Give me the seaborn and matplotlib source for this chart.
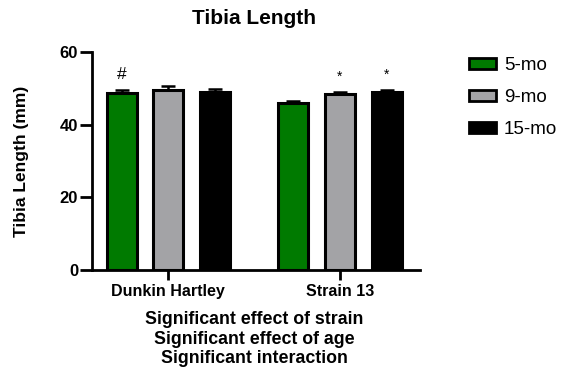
import matplotlib
matplotlib.use("Agg")
import matplotlib.pyplot as plt
import seaborn as sns
import pandas as pd
import numpy as np
from matplotlib.patches import Patch

strains = ["Dunkin Hartley", "Strain 13"]
ages = ["5-mo", "9-mo", "15-mo"]
dh_means = [48.7, 49.5, 49.0]
s13_means = [45.9, 48.4, 49.0]
dh_err = [0.8, 1.1, 0.9]
s13_err = [0.6, 0.6, 0.5]
markers_dh = ["#", "", ""]
markers_s13 = ["", "*", "*"]
colors = ["#007a00", "#a3a3a6", "#000000"]

rows = []
for s, means, errs, marks in [(strains[0], dh_means, dh_err, markers_dh),
                              (strains[1], s13_means, s13_err, markers_s13)]:
    for a, m, e, mk in zip(ages, means, errs, marks):
        rows.append(dict(strain=s, age=a, value=m, err=e, mark=mk))
df = pd.DataFrame(rows)

sns.set_style("ticks")
plt.rcParams['font.family'] = ['Liberation Sans', 'DejaVu Sans']
plt.rcParams['text.color'] = 'black'
plt.rcParams['axes.labelcolor'] = 'black'
plt.rcParams['xtick.color'] = 'black'
plt.rcParams['ytick.color'] = 'black'
plt.rcParams['axes.edgecolor'] = 'black'

fig = plt.figure(figsize=(5.65, 3.74), dpi=100)
W, H = 565, 374
ax = fig.add_axes([91.7 / W, (H - 270) / H, (420 - 91.7) / W, (270 - 52) / H])

sns.barplot(data=df, x="strain", y="value", hue="age", order=strains, hue_order=ages,
            palette=colors, saturation=1, errorbar=None, width=0.816, gap=0.357,
            edgecolor="black", linewidth=2.2, legend=False, ax=ax, zorder=3)

# error bars (upper only) and significance marks
for i, s in enumerate(strains):
    for j, a in enumerate(ages):
        r = df[(df.strain == s) & (df.age == a)].iloc[0]
        patch = ax.patches[j * len(strains) + i]
        xc = patch.get_x() + patch.get_width() / 2
        ax.errorbar([xc], [r.value], yerr=[[0], [r.err]], fmt="none", ecolor="black",
                    elinewidth=1.8, capsize=5, capthick=1.8, zorder=2)
        if r.mark:
            ax.text(xc, r.value + r.err + 2.2, r.mark, ha="center", va="bottom",
                    fontsize=12.5 if r.mark == "#" else 10, color="black", zorder=4)

ax.set_xlim(-0.446, 1.466)
ax.set_ylim(0, 60)
ax.set_yticks([0, 20, 40, 60])
ax.set_xlabel("")
ax.set_ylabel("")
for sp in ["top", "right"]:
    ax.spines[sp].set_visible(False)
for sp in ["left", "bottom"]:
    ax.spines[sp].set_linewidth(2)
ax.tick_params(axis="x", width=2, length=7, labelsize=11.5, pad=3)
ax.tick_params(axis="y", width=2, length=8.5, labelsize=12, pad=1.2)
for lbl in ax.get_xticklabels() + ax.get_yticklabels():
    lbl.set_fontweight("bold")

fig.text(254 / W, 1 - 18 / H, "Tibia Length", ha="center", va="center",
         fontsize=15, fontweight="bold")
fig.text(22 / W, 1 - 161 / H, "Tibia Length (mm)", ha="center", va="center",
         rotation=90, fontsize=12.5, fontweight="bold")
fig.text(254 / W, 1 - 339 / H,
         "Significant effect of strain\nSignificant effect of age\nSignificant interaction",
         ha="center", va="center", fontsize=12.8, fontweight="bold", linespacing=1.2)

handles = [Patch(facecolor=c, edgecolor="black", linewidth=2, label=a)
           for c, a in zip(colors, ages)]
fig.legend(handles=handles, loc="upper left", bbox_to_anchor=(469 / W, 1 - 57 / H),
           frameon=False, fontsize=13.5, handlelength=1.45, handleheight=0.55,
           labelspacing=0.8, handletextpad=0.42, borderpad=0, borderaxespad=0)

fig.savefig("out.png", dpi=100)
